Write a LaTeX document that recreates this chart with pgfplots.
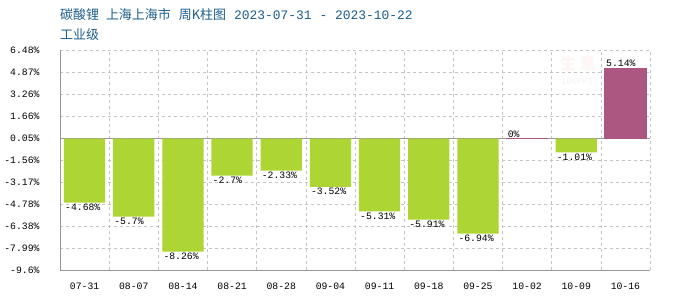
\documentclass[border=0pt]{standalone}
\usepackage{fontspec}
\usepackage{pgfplots}
\pgfplotsset{compat=1.18}
\setmainfont{Liberation Sans}
\setmonofont{Liberation Mono}
\newfontfamily\cjk{Noto Sans CJK SC}
\definecolor{bargreen}{HTML}{ADD533}
\definecolor{barpurple}{HTML}{AB5782}
\definecolor{titleblue}{HTML}{1A5C8A}
\definecolor{gridgray}{HTML}{C4C4C4}
\definecolor{axisgray}{HTML}{999999}
\begin{document}
\begin{tikzpicture}
\path[use as bounding box] (0,0) rectangle (700bp,300bp);
\node[anchor=west, inner sep=0pt, text=titleblue, font=\fontsize{13}{14}\selectfont] at (60bp,285bp)
  {{\cjk 碳酸锂}\hspace{7bp}{\cjk 上海上海市}\hspace{8bp}{\cjk 周K柱图}\hspace{8bp}{\ttfamily 2023-07-31 - 2023-10-22}};
\node[anchor=west, inner sep=0pt, text=titleblue, font=\fontsize{13}{14}\selectfont] at (60bp,265bp)
  {\cjk 工业级};
\node[anchor=west, inner sep=0pt, text=red!4!white, font=\fontsize{16}{18}\selectfont\bfseries] at (560bp,237bp) {\cjk 生 意};
\node[anchor=west, inner sep=0pt, text=black!5, font=\ttfamily\fontsize{9}{10}\selectfont] at (561bp,218bp) {100PPI};
\begin{axis}[
  at={(60bp,30bp)}, anchor=south west,
  scale only axis, width=590bp, height=220bp,
  xmin=-0.5, xmax=11.5, ymin=-9.6, ymax=6.48,
  axis x line=bottom, axis y line=left,
  axis line style={-, draw=axisgray, line width=0.8bp},
  xtick={0,...,11},
  xticklabels={07-31,08-07,08-14,08-21,08-28,09-04,09-11,09-18,09-25,10-02,10-09,10-16},
  minor xtick={0.5,1.5,...,11.5},
  ytick={-9.6,-7.992,-6.384,-4.776,-3.168,-1.56,0.048,1.656,3.264,4.872,6.48},
  yticklabels={-9.6\%,-7.99\%,-6.38\%,-4.78\%,-3.17\%,-1.56\%,0.05\%,1.66\%,3.26\%,4.87\%,6.48\%},
  major tick length=0pt, minor tick length=0pt,
  ymajorgrids=true, xminorgrids=true, xmajorgrids=false,
  major grid style={dashed, draw=gridgray, line width=0.6bp},
  minor grid style={dashed, draw=gridgray, line width=0.6bp},
  extra y ticks={0}, extra y tick labels={},
  extra y tick style={major grid style={solid, draw=axisgray, line width=0.8bp}},
  xticklabel style={font=\ttfamily\fontsize{9.8}{10}\selectfont, yshift=-9bp},
  yticklabel style={font=\ttfamily\fontsize{9.8}{10}\selectfont, anchor=east, xshift=-17bp},
  clip=false,
]
\addplot[ybar, bar shift=0pt, bar width=0.84, fill=bargreen, draw=none,
  point meta=explicit symbolic,
  nodes near coords,
  nodes near coords style={anchor=north west, xshift=-20.6bp, inner sep=1bp, font=\ttfamily\fontsize{9.8}{10}\selectfont, text=black}]
  coordinates {
  (0,-4.68) [-4.68\%]
  (1,-5.7) [-5.7\%]
  (2,-8.26) [-8.26\%]
  (3,-2.7) [-2.7\%]
  (4,-2.33) [-2.33\%]
  (5,-3.52) [-3.52\%]
  (6,-5.31) [-5.31\%]
  (7,-5.91) [-5.91\%]
  (8,-6.94) [-6.94\%]
  (10,-1.01) [-1.01\%]
  };
\addplot[ybar, bar shift=0pt, bar width=0.84, fill=barpurple, draw=barpurple, line width=0.8bp,
  point meta=explicit symbolic,
  nodes near coords,
  nodes near coords style={anchor=south west, xshift=-20.6bp, inner sep=1bp, font=\ttfamily\fontsize{9.8}{10}\selectfont, text=black}]
  coordinates {
  (9,0) [0\%]
  (11,5.14) [5.14\%]
  };
\end{axis}
\end{tikzpicture}
\end{document}
